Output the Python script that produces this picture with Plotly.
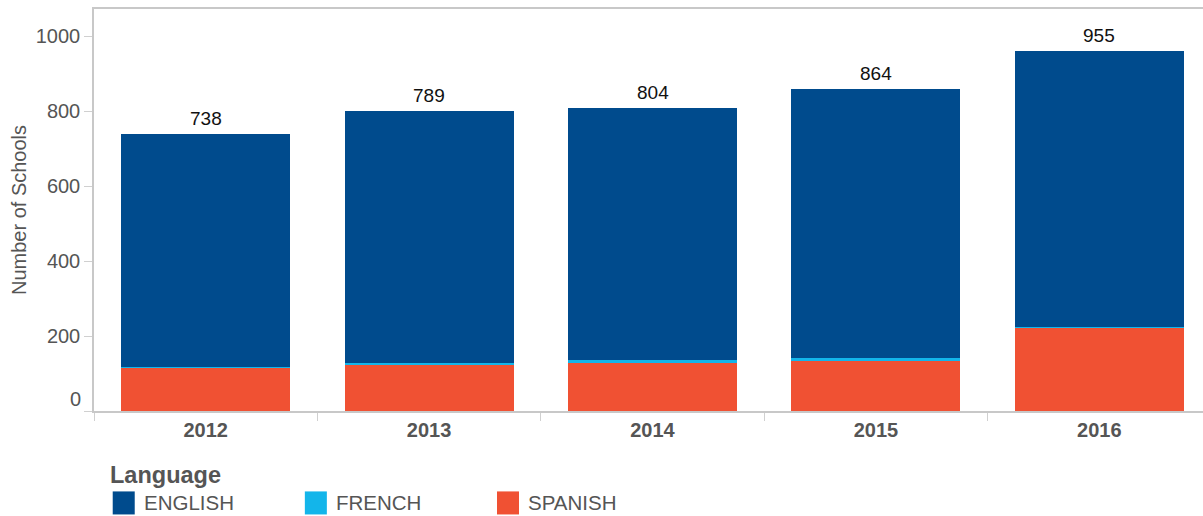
import plotly.graph_objects as go

years = ["2012", "2013", "2014", "2015", "2016"]
english = [622, 673, 674, 719, 737]
french = [3, 6, 5, 5, 2]
spanish = [115, 122, 130, 136, 222]
total_labels = ["738", "789", "804", "864", "955"]
y_ticks = [0, 200, 400, 600, 800, 1000]

series_names = ["ENGLISH", "FRENCH", "SPANISH"]
series_colors = ["#004B8D", "#13B5EA", "#F05133"]

# screen geometry (body margin removed via post_script)
H = 516
ML, MR = 94.3, 0
PW = 223.25 * 5
W = ML + PW + MR
MT = 9.3
MB = H - 410.7
PH = H - MT - MB

def px_x(px):
    return (px - ML) / PW

def px_y(py):
    return (H - MB - py) / PH

fig = go.Figure()
for name, vals, col in [("SPANISH", spanish, series_colors[2]),
                        ("FRENCH", french, series_colors[1]),
                        ("ENGLISH", english, series_colors[0])]:
    fig.add_trace(go.Bar(x=years, y=vals, name=name, marker_color=col,
                         marker_line_width=0, showlegend=False))

tops = [e + f + s for e, f, s in zip(english, french, spanish)]
for i, (t, lab) in enumerate(zip(tops, total_labels)):
    fig.add_annotation(x=i, y=t, text=lab, showarrow=False, yanchor="bottom",
                       yshift=3, font=dict(size=19, color="#111111"))

# "0" tick label sits raised above the baseline in the reference
fig.add_annotation(xref="paper", x=0, y=y_ticks[0], text=str(y_ticks[0]), showarrow=False,
                   xanchor="right", yanchor="middle", xshift=-11, yshift=12,
                   font=dict(size=20, color="#555555"))

# custom legend
fig.add_annotation(xref="paper", yref="paper", x=px_x(108), y=px_y(475),
                   xanchor="left", yanchor="middle", text="<b>Language</b>",
                   showarrow=False, font=dict(size=23.5, color="#555555"))
sw_x = [113, 305, 497]
for name, col, sx in zip(series_names, series_colors, sw_x):
    fig.add_shape(type="rect", xref="paper", yref="paper",
                  x0=px_x(sx), x1=px_x(sx + 22), y0=px_y(514), y1=px_y(491),
                  fillcolor=col, line_width=0)
    fig.add_annotation(xref="paper", yref="paper", x=px_x(sx + 29), y=px_y(502),
                       xanchor="left", yanchor="middle", text=name, showarrow=False,
                       font=dict(size=20.5, color="#555555"))

fig.update_layout(
    width=W, height=H,
    margin=dict(l=ML, r=MR, t=MT, b=MB, pad=0),
    barmode="stack", bargap=0.243,
    plot_bgcolor="white", paper_bgcolor="white",
    font=dict(family="Liberation Sans, Arial, sans-serif", color="#555555"),
    showlegend=False,
)
fig.update_xaxes(
    type="category", showline=True, linecolor="#C8C8C8", linewidth=1.5, mirror=True,
    ticks="outside", tickson="boundaries", ticklen=8, tickcolor="#D0D0D0",
    tickfont=dict(size=20, color="#555555"), tickangle=0,
    tickprefix="<b>", ticksuffix="</b>", showgrid=False,
)
fig.update_yaxes(
    range=[0, 1073], tickvals=y_ticks,
    ticktext=[""] + [str(v) for v in y_ticks[1:]],
    showline=True, linecolor="#C8C8C8", linewidth=1.5,
    ticks="outside", ticklen=8, tickcolor="#D0D0D0",
    tickfont=dict(size=20, color="#555555"), showgrid=False, zeroline=False,
    title=dict(text="Number of Schools", font=dict(size=20, color="#555555"), standoff=4),
)

fig.write_html("out.html", config={"displayModeBar": False},
               post_script="document.body.style.margin='0';document.body.style.overflow='hidden';")
